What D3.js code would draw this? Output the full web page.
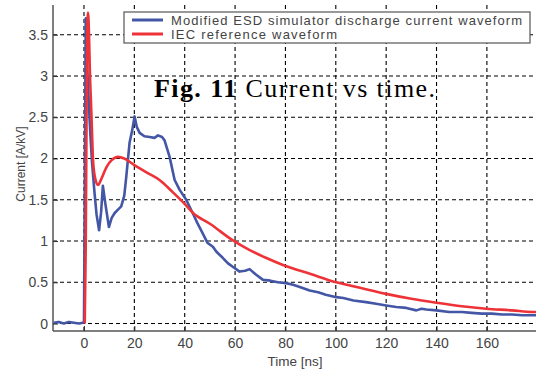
<!DOCTYPE html>
<html>
<head>
<meta charset="utf-8">
<script src="https://cdnjs.cloudflare.com/ajax/libs/d3/7.8.5/d3.min.js"></script>
<style>
  body { margin: 0; background: #fff; }
  svg { display: block; }
</style>
</head>
<body>
<div id="chart"></div>
<script>
// readings: time [ns] and current [A/kV]
var measuredTime = [-12, -10, -8, -6, -4, -2, -0.5, 0, 0.3, 0.7, 1.2, 1.8, 2.5, 3.2, 4.2, 5, 6, 6.8, 7.5, 8.5, 9.9, 11, 12.2, 13.5, 14.8, 16, 16.8, 18.1, 19.2, 20.1, 21, 22.1, 24, 26.1, 28, 29.4, 31, 32, 33, 34, 36, 38, 40.6, 43.3, 45, 47.2, 49, 51.2, 52.6, 55, 57.2, 59.5, 61.8, 64, 65.8, 68, 71.1, 74, 77, 80.3, 83, 86, 89.6, 93, 96, 100.2, 103, 107, 112, 116, 120, 124, 128, 132, 134, 136, 140, 145, 150, 154, 158, 162, 166, 170, 174, 178, 180];
var measuredCurrent = [0.01, 0.02, 0.0, 0.02, 0.01, 0.0, 0.01, 0.02, 1.5, 3.70, 3.15, 2.75, 2.31, 1.95, 1.58, 1.32, 1.13, 1.35, 1.67, 1.45, 1.17, 1.28, 1.34, 1.38, 1.42, 1.55, 1.78, 2.19, 2.35, 2.51, 2.38, 2.31, 2.27, 2.26, 2.25, 2.28, 2.26, 2.22, 2.12, 2.02, 1.74, 1.62, 1.50, 1.33, 1.22, 1.09, 0.98, 0.93, 0.87, 0.80, 0.73, 0.68, 0.63, 0.64, 0.66, 0.60, 0.53, 0.52, 0.50, 0.49, 0.47, 0.44, 0.40, 0.38, 0.35, 0.32, 0.31, 0.28, 0.26, 0.24, 0.22, 0.20, 0.19, 0.16, 0.18, 0.17, 0.16, 0.14, 0.14, 0.13, 0.12, 0.12, 0.11, 0.11, 0.10, 0.10, 0.10];

var iecTime = [0.3, 0.7, 1.0, 1.3, 1.6, 2.0, 2.3, 3.0, 3.6, 4.5, 5.6, 7, 9, 11, 13.5, 16, 20, 25, 30, 35, 40, 43.3, 50, 59, 65.8, 72, 79, 90, 100.2, 110, 120, 130, 140.5, 150, 159.7, 170, 178, 180];
var iecCurrent = [0.0, 0.93, 2.4, 3.5, 3.77, 3.5, 3.11, 2.5, 1.98, 1.75, 1.68, 1.76, 1.90, 1.98, 2.02, 2.00, 1.92, 1.83, 1.74, 1.60, 1.45, 1.34, 1.21, 1.01, 0.89, 0.80, 0.71, 0.60, 0.50, 0.43, 0.36, 0.30, 0.25, 0.21, 0.18, 0.16, 0.14, 0.14];

var xTicks = [0, 20, 40, 60, 80, 100, 120, 140, 160];
var yTicks = [0, 0.5, 1, 1.5, 2, 2.5, 3, 3.5];
var seriesNames = ["Modified ESD simulator discharge current waveform", "IEC reference waveform"];
var seriesColors = ["#4456a6", "#ee3338"];

var svgWidth = 536, svgHeight = 371;
var margin = { top: 5, right: 0, bottom: 40, left: 53 };
var width = svgWidth - margin.left - margin.right;
var height = svgHeight - margin.top - margin.bottom;

var svg = d3.select("#chart").append("svg")
  .attr("width", svgWidth)
  .attr("height", svgHeight);

var chartGroup = svg.append("g")
  .attr("transform", `translate(${margin.left}, ${margin.top})`);

var xScale = d3.scaleLinear().domain([-12.3, 179.5]).range([0, width]);
var yScale = d3.scaleLinear().domain([-0.09, 3.86]).range([height, 0]);

// dashed grid
var grid = chartGroup.append("g").attr("class", "grid")
  .attr("stroke", "#000").attr("stroke-width", 1.1)
  .attr("stroke-dasharray", "4,3");
grid.selectAll("line.gx")
  .data(xTicks).enter().append("line")
  .attr("class", "gx")
  .attr("x1", d => xScale(d)).attr("x2", d => xScale(d))
  .attr("y1", 0).attr("y2", height);
grid.selectAll("line.gy")
  .data(yTicks).enter().append("line")
  .attr("class", "gy")
  .attr("x1", 0).attr("x2", width)
  .attr("y1", d => yScale(d)).attr("y2", d => yScale(d));

// axes
var bottomAxis = d3.axisBottom(xScale).tickValues(xTicks).tickSize(-5).tickPadding(7.5).tickFormat(d => String(d));
var leftAxis = d3.axisLeft(yScale).tickValues(yTicks).tickSize(-5).tickPadding(5).tickFormat(d => String(d));

var xAxis = chartGroup.append("g")
  .attr("transform", `translate(0, ${height})`)
  .call(bottomAxis);
var yAxis = chartGroup.append("g").call(leftAxis);

[xAxis, yAxis].forEach(function (ax) {
  ax.select(".domain").attr("stroke", "#555").attr("stroke-width", 1.5);
  ax.selectAll(".tick line").attr("stroke", "#333");
  ax.selectAll(".tick text")
    .attr("fill", "#444")
    .style("font-family", "'Liberation Sans', Arial, sans-serif")
    .style("font-size", "14px");
});
yAxis.select(".domain").attr("d", `M0,${height}V0`);
xAxis.select(".domain").attr("d", `M0,0H${width}`);

// curves
var measuredLine = d3.line().x(d => xScale(d[0])).y(d => yScale(d[1]));
var iecLine = d3.line().curve(d3.curveMonotoneX).x(d => xScale(d[0])).y(d => yScale(d[1]));

chartGroup.append("path")
  .datum(d3.zip(measuredTime, measuredCurrent))
  .attr("d", measuredLine)
  .attr("fill", "none")
  .attr("stroke", seriesColors[0])
  .attr("stroke-width", 2.6)
  .attr("stroke-linejoin", "round");

chartGroup.append("path")
  .datum(d3.zip(iecTime, iecCurrent))
  .attr("d", iecLine)
  .attr("fill", "none")
  .attr("stroke", seriesColors[1])
  .attr("stroke-width", 2.6)
  .attr("stroke-linejoin", "round");

// legend
var legend = svg.append("g").attr("transform", "translate(124, 12)");
legend.append("rect")
  .attr("width", 406).attr("height", 31)
  .attr("fill", "#fff").attr("stroke", "#555").attr("stroke-width", 1.2);

var rowLengths = [351, 166];
seriesNames.forEach(function (name, i) {
  var ry = 8 + i * 14;
  legend.append("line")
    .attr("x1", 8).attr("x2", 39)
    .attr("y1", ry).attr("y2", ry)
    .attr("stroke", seriesColors[i]).attr("stroke-width", 3);
  legend.append("text")
    .attr("x", 47).attr("y", ry + 4.5)
    .attr("textLength", rowLengths[i])
    .attr("lengthAdjust", "spacing")
    .attr("fill", "#444")
    .style("font-family", "'Liberation Sans', Arial, sans-serif")
    .style("font-size", "13px")
    .text(name);
});

// caption over the plot
var caption = svg.append("text")
  .attr("x", 154).attr("y", 97)
  .attr("textLength", 281)
  .attr("lengthAdjust", "spacing")
  .style("font-family", "'Liberation Serif', 'Times New Roman', serif")
  .style("font-size", "26px")
  .attr("fill", "#000");
caption.append("tspan").style("font-weight", "bold").text("Fig. 11");
caption.append("tspan").text(" Current vs time.");

// axis labels
svg.append("text")
  .attr("x", 295).attr("y", 366)
  .attr("text-anchor", "middle")
  .attr("fill", "#444")
  .style("font-family", "'Liberation Sans', Arial, sans-serif")
  .style("font-size", "13.5px")
  .text("Time [ns]");

svg.append("text")
  .attr("transform", "translate(25, 164) rotate(-90)")
  .attr("text-anchor", "middle")
  .attr("fill", "#444")
  .style("font-family", "'Liberation Sans', Arial, sans-serif")
  .style("font-size", "12px")
  .text("Current [A/kV]");
</script>
</body>
</html>
